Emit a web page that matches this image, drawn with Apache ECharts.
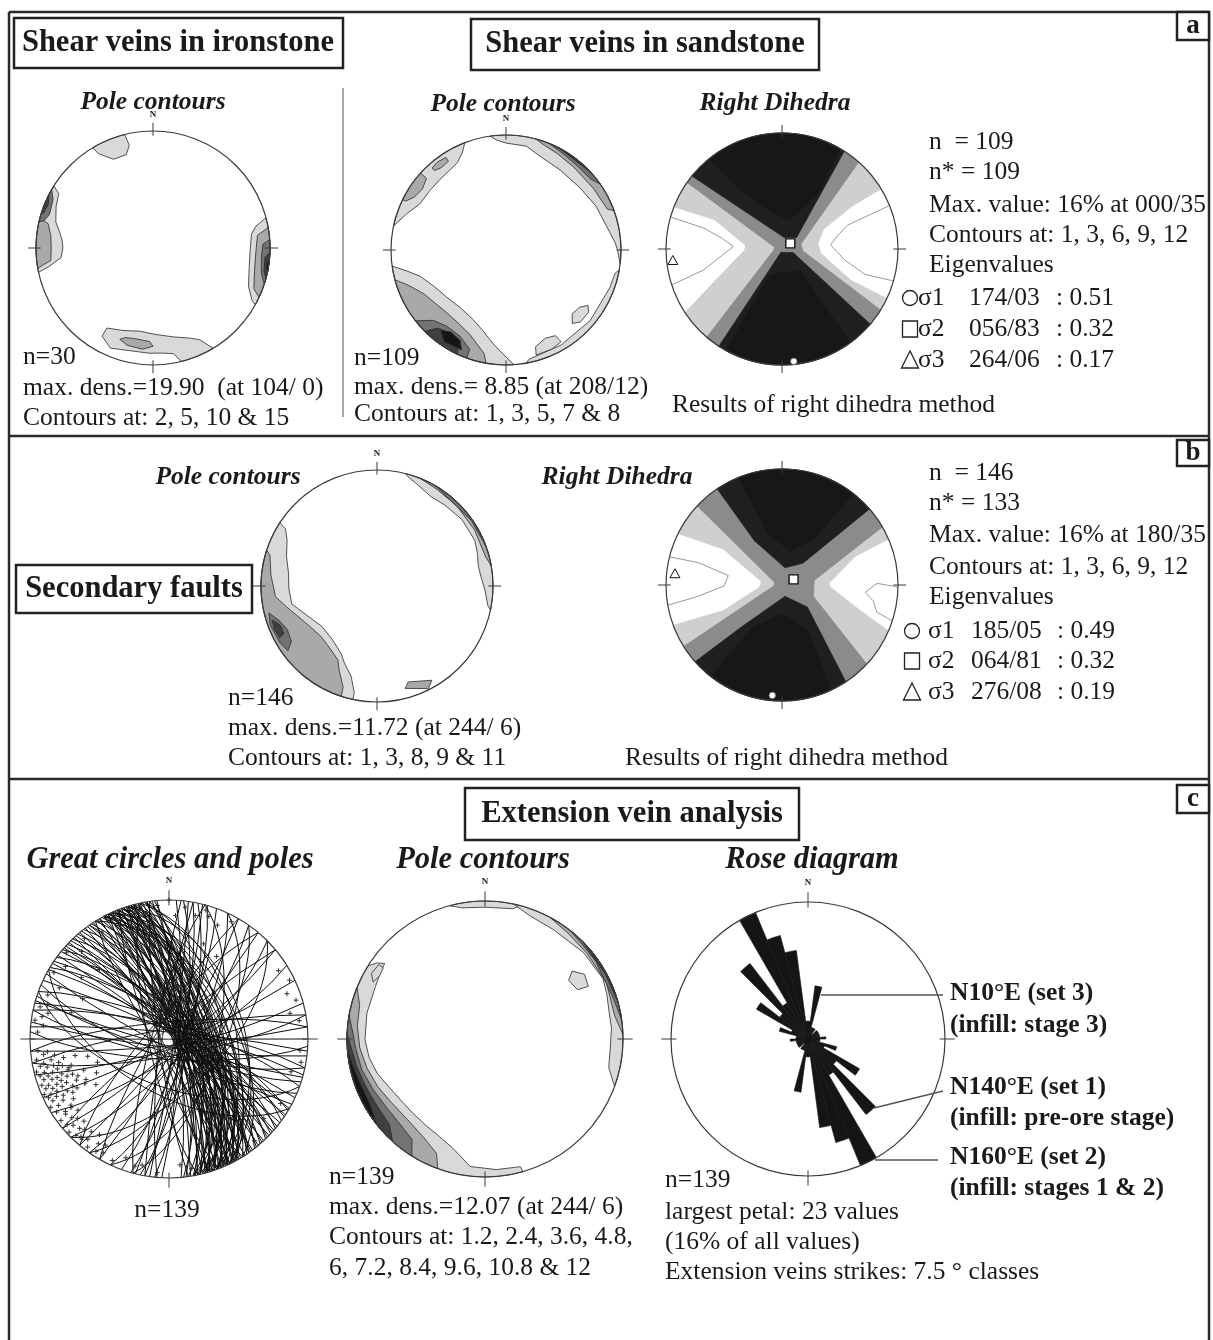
<!DOCTYPE html>
<html>
<head>
<meta charset="utf-8">
<title>Vein analysis stereonets</title>
<script src="https://cdn.jsdelivr.net/npm/echarts@6/dist/echarts.min.js"></script>
<style>
  html, body { margin: 0; padding: 0; background: #fff; }
  #main { width: 1213px; height: 1340px; }
</style>
</head>
<body>
<div id="main"></div>
<script>
// ---------------- data ----------------
// contour polygons: [level, [[azimuth, r], ...]]   (r = 1 is the primitive circle)
var ironContours = [
  [1, [[329,1],[346,1],[347,0.9],[344,0.83],[336,0.83],[330,0.93]]],
  [1, [[302,1],[258,1],[260,0.9],[264,0.79],[270,0.77],[275,0.78],[281,0.82],[285,0.86],[293,0.9],[300,0.93]]],
  [2, [[285,1],[260,1],[261,0.96],[263,0.88],[270,0.87],[277,0.88],[283,0.92]]],
  [3, [[300,1],[283,1],[284,0.96],[288,0.93],[296,0.95]]],
  [4, [[297,1],[287,1],[288,0.98],[293,0.97]]],
  [1, [[75,1],[119,1],[118,0.96],[112,0.88],[102,0.84],[92,0.83],[82,0.85],[78,0.9]]],
  [2, [[80,1],[115,1],[112,0.93],[103,0.89],[92,0.88],[83,0.9]]],
  [3, [[86,1],[108,1],[103,0.95],[95,0.93],[88,0.94]]],
  [4, [[92,1],[105,1],[102,0.97],[95,0.96]]],
  [5, [[95,1],[102,1],[99,0.98]]],
  [1, [[149,1],[166,1],[169,0.92],[176,0.9],[182,0.9],[193,0.9],[203,0.93],[210,0.87],[210,0.79],[200,0.75],[189,0.72],[178,0.74],[167,0.78],[158,0.83],[153,0.88]]],
  [2, [[197,0.8],[190,0.79],[182,0.8],[180,0.84],[186,0.87],[195,0.86],[200,0.83]]]
];

var sandContours = [
  [1, [[352,1],[97,1],[90,0.97],[86,0.95],[77,0.9],[64,0.87],[50,0.84],[34,0.84],[22,0.86],[11,0.92],[0,0.93],[355,0.96]]],
  [2, [[15,1],[70,1],[68,0.95],[55,0.93],[40,0.93],[28,0.95],[20,0.97]]],
  [3, [[22,1],[55,1],[50,0.96],[40,0.96],[30,0.975]]],
  [4, [[27,1],[48,1],[40,0.985]]],
  [1, [[339,1],[282,1],[290,0.92],[298,0.85],[308,0.84],[317,0.84],[325,0.85],[331,0.87],[336,0.93]]],
  [2, [[296,0.97],[300,0.92],[306,0.9],[312,0.93],[312,1],[296,1]]],
  [2, [[318,0.93],[322,0.91],[327,0.92],[327,0.96],[322,0.97],[318,0.96]]],
  [1, [[262,1],[176,1],[182,0.9],[188,0.82],[196,0.73],[205,0.67],[218,0.64],[232,0.66],[243,0.7],[253,0.78],[258,0.88]]],
  [2, [[255,1],[190,1],[192,0.92],[203,0.8],[213,0.76],[223,0.75],[233,0.77],[242,0.81],[250,0.9]]],
  [3, [[232,1],[200,1],[200,0.92],[208,0.85],[218,0.84],[226,0.88]]],
  [4, [[225,1],[205,1],[207,0.9],[214,0.87],[221,0.9]]],
  [5, [[204,0.95],[207,0.88],[214,0.86],[219,0.9],[214,0.96]]],
  [1, [[100,1],[170,1],[168,0.97],[150,0.955],[130,0.955],[110,0.96],[102,0.97]]],
  [1, [[124,0.86],[128,0.81],[134,0.8],[138,0.86],[134,0.9],[127,0.9]]],
  [1, [[150,0.86],[156,0.84],[163,0.88],[164,0.95],[155,0.95],[149,0.93]]]
];

var faultContours = [
  [1, [[14,1],[102,1],[100,0.97],[92,0.93],[85,0.9],[79,0.89],[72,0.91],[65,0.93],[52,0.93],[40,0.91],[31,0.9],[22,0.94],[17,0.97]]],
  [2, [[22,1],[80,1],[75,0.97],[60,0.97],[45,0.975],[32,0.98]]],
  [3, [[30,1],[70,1],[55,0.99]]],
  [1, [[303,1],[192,1],[192,0.94],[196,0.81],[203,0.72],[208,0.66],[220,0.6],[234,0.59],[248,0.66],[258,0.75],[268,0.76],[278,0.77],[288,0.82],[297,0.87],[302,0.93]]],
  [2, [[288,1],[198,1],[198.5,0.92],[204,0.8],[208,0.72],[218,0.67],[228,0.65],[240,0.68],[249,0.73],[257,0.8],[264,0.88],[276,0.92],[286,0.96]]],
  [3, [[256,0.96],[250,0.89],[244,0.86],[237,0.88],[234,0.95],[240,0.97],[250,0.98]]],
  [4, [[252,0.95],[248,0.9],[243,0.9],[242,0.95],[247,0.96]]],
  [2, [[164.7,0.915],[161.9,0.87],[149.8,0.94],[153.4,0.99]]]
];

var extContours = [
  [1, [[345,1],[15,1],[12,0.965],[0,0.955],[350,0.965]]],
  [1, [[12,1],[110,1],[109,0.985],[103,0.92],[95,0.91],[85,0.92],[78,0.92],[70,0.94],[63,0.96],[49,0.95],[32,0.935],[20,0.95]]],
  [2, [[28,1],[88,1],[80,0.955],[65,0.97],[50,0.965],[38,0.975]]],
  [3, [[38,1],[82,1],[72,0.975],[55,0.98],[45,0.985]]],
  [4, [[45,1],[75,1],[62,0.99]]],
  [1, [[52,0.8],[55,0.74],[62,0.76],[63,0.84],[57,0.86]]],
  [1, [[302,1],[164,1],[164.5,0.96],[175,0.95],[186.6,0.93],[195.8,0.83],[205,0.78],[213.6,0.76],[224,0.75],[234.4,0.755],[244,0.78],[252.5,0.82],[261,0.85],[269.7,0.87],[282.4,0.876],[295.6,0.88],[303,0.9],[307,0.91],[305,0.96]]],
  [1, [[300,0.95],[297,0.91],[301,0.89],[305,0.9],[305,0.94]]],
  [2, [[292,1],[200,1],[203,0.9],[212,0.84],[224,0.81],[236,0.82],[246,0.85],[256,0.88],[266,0.91],[276,0.93],[285,0.94]]],
  [3, [[280,1],[212,1],[216,0.9],[226,0.87],[236,0.87],[246,0.89],[256,0.92],[266,0.94],[273,0.96]]],
  [4, [[272,1],[222,1],[228,0.93],[238,0.92],[248,0.93],[258,0.95],[266,0.97]]],
  [5, [[266,1],[232,1],[240,0.96],[250,0.96],[259,0.98]]]
];

// right dihedra: level 0 white, 2 grey, 3 black, 4 darkest (disk itself is light grey)
var rdAContours = [
  [0, [[291,1],[237,1],[245,0.64],[268,0.33],[275,0.32],[293,0.63]]],
  [0, [[59,1],[115,1],[114,0.65],[96,0.34],[81,0.32],[65,0.4],[59,0.7]]],
  [2, [[305,1],[41.5,1],[75,0.17],[95,0.18],[121.7,1],[220.5,1],[265,0.07],[285,0.07]]],
  [3, [[309,1],[32.5,1],[52,0.16],[11,0.1]]],
  [3, [[130.4,1],[213,1],[198,0.03],[107,0.1]]],
  [4, [[321,1],[30,1],[33,0.58],[16,0.26],[350,0.3],[325,0.62]]],
  [4, [[144,1],[209,1],[205,0.25],[180,0.2],[140,0.25]]]
];
var rdALines = [
  [[286,1],[285,0.7],[280,0.52],[273,0.42],[262,0.55],[255,0.7],[252,1]],
  [[68,1],[70,0.6],[76,0.5],[85,0.42],[100,0.55],[107,0.75],[106,1]]
];
var rdBContours = [
  [0, [[296,1],[250,1],[247,0.55],[265,0.2],[279,0.185],[301,0.59]]],
  [0, [[67,1],[113,1],[107.7,0.71],[92,0.42],[88,0.41],[69,0.68]]],
  [2, [[313,1],[60,1],[82,0.28],[110,0.29],[133,1],[238,1],[265,0.07],[290,0.07]]],
  [3, [[326,1],[49,1],[44,0.26],[10,0.15],[328,0.45]]],
  [3, [[146.6,1],[228.6,1],[224,0.5],[165,0.1],[131,0.29]]],
  [4, [[338,1],[38,1],[35,0.5],[15,0.3],[345,0.45]]],
  [4, [[155,1],[218,1],[215,0.45],[180,0.25],[150,0.45]]]
];
var rdBLines = [
  [[284,1],[285,0.75],[280,0.47],[269,0.5],[262,0.75],[260,1]],
  [[91,1],[89,0.82],[95,0.72],[100,0.8],[106,0.85],[108,1]]
];
// principal axes [trend, plunge]: sigma1, sigma2, sigma3
var rdASigma = [[174, 3], [56, 83], [264, 6]];
var rdBSigma = [[185, 5], [64, 81], [276, 8]];

// extension veins: [dip direction, dip]
var gcPlanes = [
  [55,80],[56,74],[57,86],[58,70],[59,82],[60,77],[60,88],[61,68],[62,84],[62,75],
  [63,80],[63,71],[64,86],[64,66],[65,78],[65,83],[66,73],[66,88],[67,69],[67,80],
  [68,85],[68,76],[69,72],[69,82],[70,67],[70,87],[71,78],[71,74],[72,84],[72,70],
  [73,80],[73,65],[74,86],[74,76],[75,72],[75,82],[76,68],[76,88],[77,79],[77,74],
  [78,84],[78,70],[79,81],[80,75],[80,66],[81,86],[82,72],[83,80],[84,77],[85,84],
  [66,62],[70,63],[74,64],[62,64],
  [238,82],[244,86],[249,80],[253,85],[258,78],[262,84],
  [42,84],[43,78],[44,86],[45,80],[46,74],[47,88],[48,82],[49,76],[50,85],[51,79],[52,72],[53,87],[54,81],[55,75],
  [30,84],[31,78],[33,86],[34,80],[36,74],[37,87],[39,82],[40,76],[41,85],
  [93,84],[96,80],[98,87],[100,82],[102,78],[104,85],[106,80],[275,84],[280,86],[285,80],
  [110,82],[115,76],[120,85],[125,80],[130,86],[135,78],[140,84],[148,80],[155,86],[300,82],[310,78],[320,85],
  [180,90],[165,84],[170,80],[175,86],[183,78],[187,85],[192,80],[196,86],[350,84],[355,80],[5,86],[12,82],
  [15,84],[20,80],[25,86],[198,82],[203,78],[208,85],
  [58,52],[62,58],[65,48],[68,60],[70,55],[72,45],[75,62],[78,50],[64,56],[80,58],
  [105,62],[115,58],[125,66],[135,60],[200,62],[210,58]
];

// rose diagram, 7.5 degree strike classes from 000 to 180 (mirrored to 180-360)
var roseBins = ['0','7.5','15','22.5','30','37.5','45','52.5','60','67.5','75','82.5',
                '90','97.5','105','112.5','120','127.5','135','142.5','150','157.5','165','172.5'];
var roseCounts = [3, 9, 2, 2, 2, 1, 2, 2, 2, 2, 2, 3, 2, 2, 5, 3, 10, 6, 16, 7, 23, 18, 15, 3];

// ---------------- layout ----------------
var FONT = '"Liberation Serif","Times New Roman",serif';
var D2R = Math.PI / 180;
var nets = [
  { cx: 153, cy: 248, r: 117, north: true },   // 0 shear veins ironstone
  { cx: 506, cy: 250, r: 115, north: true },   // 1 shear veins sandstone
  { cx: 782, cy: 249, r: 116, north: false },  // 2 right dihedra a
  { cx: 377, cy: 586, r: 116, north: true },   // 3 secondary faults
  { cx: 782, cy: 585, r: 116, north: false },  // 4 right dihedra b
  { cx: 169, cy: 1039, r: 139, north: true },  // 5 great circles
  { cx: 485, cy: 1039, r: 138, north: true },  // 6 extension vein pole contours
  { cx: 808, cy: 1039, r: 137, north: true }   // 7 rose
];
var poleFill = ['#ffffff', '#d9d9d9', '#a9a9a9', '#737373', '#3f3f3f', '#151515'];
var rdFill = ['#ffffff', '#cfcfcf', '#8b8b8b', '#1f1f1f', '#171717'];

function proj(az, r) { return [r * Math.sin(az * D2R), r * Math.cos(az * D2R)]; }
function eqArea(trend, plunge) {
  var r = Math.SQRT2 * Math.sin((90 - plunge) / 2 * D2R);
  return proj(trend, r);
}
// vertices to x/y, following the primitive circle between two rim vertices
function ringPts(pts, closed) {
  var out = [];
  var n = pts.length;
  for (var i = 0; i < n; i++) {
    var p = pts[i];
    out.push(proj(p[0], Math.min(p[1], 1)));
    if (!closed && i === n - 1) break;
    var q = pts[(i + 1) % n];
    if (p[1] >= 1 && q[1] >= 1) {
      var d = ((q[0] - p[0]) % 360 + 540) % 360 - 180;
      var m = Math.ceil(Math.abs(d) / 2);
      for (var k = 1; k < m; k++) out.push(proj(p[0] + d * k / m, 1));
    }
  }
  return out;
}

function base(i, z) {
  return { type: 'custom', coordinateSystem: 'cartesian2d', xAxisIndex: i, yAxisIndex: i,
           silent: true, animation: false, clip: false, z: z };
}
function diskSeries(i, fill) {
  var s = base(i, 1);
  s.data = [[0, 0]];
  s.renderItem = function (params, api) {
    var c = api.coord([0, 0]), R = api.size([1, 0])[0];
    return { type: 'circle', shape: { cx: c[0], cy: c[1], r: R }, style: { fill: fill } };
  };
  return s;
}
function polySeries(i, polys, palette, stroke) {
  var s = base(i, 2);
  s.data = polys.map(function (p, k) { return [0, 0, k]; });
  s.renderItem = function (params, api) {
    var item = polys[params.dataIndex];
    var pts = ringPts(item[1], true).map(function (p) { return api.coord(p); });
    return { type: 'polygon', z2: params.dataIndex, shape: { points: pts },
             style: { fill: palette[item[0]], stroke: stroke || palette[item[0]], lineWidth: stroke ? 0.8 : 0.6 } };
  };
  return s;
}
function lineSeries(i, lines) {
  var s = base(i, 3);
  s.data = lines.map(function (p, k) { return [0, 0, k]; });
  s.renderItem = function (params, api) {
    var pts = ringPts(lines[params.dataIndex], false).map(function (p) { return api.coord(p); });
    return { type: 'polyline', shape: { points: pts }, style: { fill: 'none', stroke: '#9a9a9a', lineWidth: 1 } };
  };
  return s;
}
function frameSeries(i, north) {
  var s = base(i, 4);
  s.data = [[0, 0]];
  s.renderItem = function (params, api) {
    var c = api.coord([0, 0]), R = api.size([1, 0])[0];
    var kids = [{ type: 'circle', shape: { cx: c[0], cy: c[1], r: R },
                  style: { fill: 'none', stroke: '#3a3a3a', lineWidth: 1.2 } }];
    [0, 90, 180, 270].forEach(function (a) {
      var p1 = api.coord(proj(a, 0.96)), p2 = api.coord(proj(a, 1.07));
      kids.push({ type: 'line', shape: { x1: p1[0], y1: p1[1], x2: p2[0], y2: p2[1] },
                  style: { stroke: '#3a3a3a', lineWidth: 1 } });
    });
    if (north) {
      var pn = api.coord(proj(0, 1.14));
      kids.push({ type: 'text', style: { text: 'N', x: pn[0], y: pn[1], fill: '#222',
                  font: 'bold 9px ' + FONT, align: 'center', verticalAlign: 'middle' } });
    }
    return { type: 'group', children: kids };
  };
  return s;
}
function greatCircleSeries(i) {
  var s = base(i, 2);
  s.data = gcPlanes.map(function (p, k) { return [0, 0, k]; });
  s.renderItem = function (params, api) {
    var pl = gcPlanes[params.dataIndex];
    var tanDip = Math.tan(Math.min(pl[1], 89.9) * D2R);
    var pts = [];
    for (var t = -90; t <= 90; t += 3) {
      var plunge = Math.atan(tanDip * Math.cos(t * D2R)) / D2R;
      pts.push(api.coord(eqArea(pl[0] + t, plunge)));
    }
    return { type: 'polyline', shape: { points: pts }, style: { fill: 'none', stroke: '#0d0d0d', lineWidth: 1 } };
  };
  return s;
}
function poleSeries(i) {
  var s = base(i, 3);
  s.data = gcPlanes.map(function (p, k) { return [0, 0, k]; });
  s.renderItem = function (params, api) {
    var pl = gcPlanes[params.dataIndex];
    var p = api.coord(eqArea(pl[0] + 180, 90 - pl[1]));
    return { type: 'group', children: [
      { type: 'line', shape: { x1: p[0] - 2.5, y1: p[1], x2: p[0] + 2.5, y2: p[1] }, style: { stroke: '#333', lineWidth: 1 } },
      { type: 'line', shape: { x1: p[0], y1: p[1] - 2.5, x2: p[0], y2: p[1] + 2.5 }, style: { stroke: '#333', lineWidth: 1 } }
    ] };
  };
  return s;
}
function sigmaSeries(i, sig) {
  var s = base(i, 5);
  s.data = sig.map(function (p, k) { return [0, 0, k]; });
  s.renderItem = function (params, api) {
    var a = sig[params.dataIndex];
    var p = api.coord(eqArea(a[0], a[1]));
    if (params.dataIndex === 0)
      return { type: 'circle', shape: { cx: p[0], cy: p[1], r: 3.3 }, style: { fill: '#fff', stroke: '#555', lineWidth: 0.8 } };
    if (params.dataIndex === 1)
      return { type: 'rect', shape: { x: p[0] - 4.5, y: p[1] - 4.5, width: 9, height: 9 }, style: { fill: '#fff', stroke: '#111', lineWidth: 1.4 } };
    return { type: 'polygon', shape: { points: [[p[0], p[1] - 5], [p[0] - 5, p[1] + 4], [p[0] + 5, p[1] + 4]] },
             style: { fill: '#fff', stroke: '#111', lineWidth: 1 } };
  };
  return s;
}

// ---------------- graphic helpers ----------------
function txt(x, y, s, size, opt) {
  opt = opt || {};
  return { type: 'text', x: x, y: y, z: 10, silent: true,
    style: { text: s, fill: '#1a1a1a', align: opt.align || 'left', verticalAlign: 'middle',
             font: (opt.italic ? 'italic ' : '') + (opt.bold ? 'bold ' : '') + size + 'px ' + FONT } };
}
function box(x, y, w, h) {
  return { type: 'rect', z: 9, silent: true, shape: { x: x, y: y, width: w, height: h },
           style: { fill: '#fff', stroke: '#222', lineWidth: 2.5 } };
}
function seg(x1, y1, x2, y2, w, col) {
  return { type: 'line', z: 9, silent: true, shape: { x1: x1, y1: y1, x2: x2, y2: y2 },
           style: { stroke: col || '#2a2a2a', lineWidth: w || 2.5 } };
}
function eigenRows(xs, ys, rows) {
  var out = [];
  out.push({ type: 'circle', z: 10, shape: { cx: xs[0], cy: ys[0], r: 7.5 }, style: { fill: 'none', stroke: '#222', lineWidth: 1.3 } });
  out.push({ type: 'rect', z: 10, shape: { x: xs[0] - 7.5, y: ys[1] - 8, width: 15, height: 16 }, style: { fill: 'none', stroke: '#222', lineWidth: 1.3 } });
  out.push({ type: 'polygon', z: 10, shape: { points: [[xs[0], ys[2] - 9], [xs[0] - 8.5, ys[2] + 8], [xs[0] + 8.5, ys[2] + 8]] },
             style: { fill: 'none', stroke: '#222', lineWidth: 1.3 } });
  rows.forEach(function (r, k) {
    out.push(txt(xs[1], ys[k], r[0], 25.5));
    out.push(txt(xs[2], ys[k], r[1], 25.5));
    out.push(txt(xs[3], ys[k], r[2], 25.5));
  });
  return out;
}

var REG = 25.5, BIG = 30.5;
var graphics = [
  // frame
  seg(9, 12, 1209, 12), seg(9, 12, 9, 1340), seg(1209, 12, 1209, 1340),
  seg(9, 436, 1209, 436), seg(9, 779, 1209, 779),
  seg(343, 88, 343, 417, 1.3, '#777'),
  // panel a
  box(14, 18, 329, 50), txt(178, 43, 'Shear veins in ironstone', BIG, { bold: true, align: 'center' }),
  box(471, 19, 348, 51), txt(645, 44, 'Shear veins in sandstone', BIG, { bold: true, align: 'center' }),
  box(1177, 12, 32, 28), txt(1193, 26, 'a', 27, { bold: true, align: 'center' }),
  txt(153, 102, 'Pole contours', REG, { bold: true, italic: true, align: 'center' }),
  txt(23, 357, 'n=30', REG), txt(23, 388, 'max. dens.=19.90  (at 104/ 0)', REG), txt(23, 418, 'Contours at: 2, 5, 10 & 15', REG),
  txt(503, 104, 'Pole contours', REG, { bold: true, italic: true, align: 'center' }),
  txt(354, 358, 'n=109', REG), txt(354, 387, 'max. dens.= 8.85 (at 208/12)', REG), txt(354, 414, 'Contours at: 1, 3, 5, 7 & 8', REG),
  txt(775, 103, 'Right Dihedra', REG, { bold: true, italic: true, align: 'center' }),
  txt(929, 142, 'n  = 109', REG), txt(929, 172, 'n* = 109', REG), txt(929, 205, 'Max. value: 16% at 000/35', REG),
  txt(929, 235, 'Contours at: 1, 3, 6, 9, 12', REG), txt(929, 265, 'Eigenvalues', REG),
  txt(672, 405, 'Results of right dihedra method', REG),
  // panel b
  txt(228, 477, 'Pole contours', REG, { bold: true, italic: true, align: 'center' }),
  box(16, 565, 236, 48), txt(134, 589, 'Secondary faults', BIG, { bold: true, align: 'center' }),
  txt(228, 698, 'n=146', REG), txt(228, 728, 'max. dens.=11.72 (at 244/ 6)', REG), txt(228, 758, 'Contours at: 1, 3, 8, 9 & 11', REG),
  txt(617, 477, 'Right Dihedra', REG, { bold: true, italic: true, align: 'center' }),
  box(1177, 440, 32, 26), txt(1193, 453, 'b', 27, { bold: true, align: 'center' }),
  txt(929, 473, 'n  = 146', REG), txt(929, 503, 'n* = 133', REG), txt(929, 535, 'Max. value: 16% at 180/35', REG),
  txt(929, 567, 'Contours at: 1, 3, 6, 9, 12', REG), txt(929, 597, 'Eigenvalues', REG),
  txt(625, 758, 'Results of right dihedra method', REG),
  // panel c
  box(465, 788, 334, 52), txt(632, 814, 'Extension vein analysis', BIG, { bold: true, align: 'center' }),
  box(1177, 785, 32, 28), txt(1193, 799, 'c', 27, { bold: true, align: 'center' }),
  txt(170, 860, 'Great circles and poles', BIG, { bold: true, italic: true, align: 'center' }),
  txt(483, 860, 'Pole contours', BIG, { bold: true, italic: true, align: 'center' }),
  txt(812, 860, 'Rose diagram', BIG, { bold: true, italic: true, align: 'center' }),
  txt(167, 1210, 'n=139', REG, { align: 'center' }),
  txt(329, 1177, 'n=139', REG), txt(329, 1207, 'max. dens.=12.07 (at 244/ 6)', REG),
  txt(329, 1237, 'Contours at: 1.2, 2.4, 3.6, 4.8,', REG), txt(329, 1268, '6, 7.2, 8.4, 9.6, 10.8 & 12', REG),
  txt(665, 1180, 'n=139', REG), txt(665, 1212, 'largest petal: 23 values', REG),
  txt(665, 1242, '(16% of all values)', REG), txt(665, 1272, 'Extension veins strikes: 7.5 \u00b0 classes', REG),
  txt(950, 993, 'N10\u00b0E (set 3)', REG, { bold: true }), txt(950, 1025, '(infill: stage 3)', REG, { bold: true }),
  txt(950, 1087, 'N140\u00b0E (set 1)', REG, { bold: true }), txt(950, 1118, '(infill: pre-ore stage)', REG, { bold: true }),
  txt(950, 1157, 'N160\u00b0E (set 2)', REG, { bold: true }), txt(950, 1188, '(infill: stages 1 & 2)', REG, { bold: true }),
  seg(821, 995, 943, 995, 1.4, '#555'), seg(874, 1108, 943, 1091, 1.4, '#555'), seg(875, 1160, 938, 1160, 1.4, '#555')
].concat(
  eigenRows([910, 918, 969, 1056], [298, 329, 360], [['\u03c31', '174/03', ': 0.51'], ['\u03c32', '056/83', ': 0.32'], ['\u03c33', '264/06', ': 0.17']]),
  eigenRows([912, 928, 971, 1057], [631, 661, 692], [['\u03c31', '185/05', ': 0.49'], ['\u03c32', '064/81', ': 0.32'], ['\u03c33', '276/08', ': 0.19']])
);

// ---------------- chart ----------------
var roseCats = roseBins.concat(roseBins.map(function (b) { return String(parseFloat(b) + 180); }));
var roseData = roseCounts.concat(roseCounts);

var series = [
  polySeries(0, ironContours, poleFill, '#2a2a2a'), frameSeries(0, true),
  polySeries(1, sandContours, poleFill, '#2a2a2a'), frameSeries(1, true),
  diskSeries(2, rdFill[1]), polySeries(2, rdAContours, rdFill), lineSeries(2, rdALines), frameSeries(2, false), sigmaSeries(2, rdASigma),
  polySeries(3, faultContours, poleFill, '#2a2a2a'), frameSeries(3, true),
  diskSeries(4, rdFill[1]), polySeries(4, rdBContours, rdFill), lineSeries(4, rdBLines), frameSeries(4, false), sigmaSeries(4, rdBSigma),
  greatCircleSeries(5), poleSeries(5), frameSeries(5, true),
  polySeries(6, extContours, poleFill, '#2a2a2a'), frameSeries(6, true),
  frameSeries(7, true),
  { type: 'bar', coordinateSystem: 'polar', data: roseData, barCategoryGap: '0%', silent: true, animation: false, z: 3,
    itemStyle: { color: '#151515', borderColor: '#151515', borderWidth: 0.6 } }
];

var chart = echarts.init(document.getElementById('main'), null, { renderer: 'canvas' });
chart.setOption({
  backgroundColor: '#ffffff',
  animation: false,
  grid: nets.map(function (n) { return { left: n.cx - n.r, top: n.cy - n.r, width: 2 * n.r, height: 2 * n.r, containLabel: false }; }),
  xAxis: nets.map(function (n, i) { return { gridIndex: i, type: 'value', min: -1, max: 1, show: false }; }),
  yAxis: nets.map(function (n, i) { return { gridIndex: i, type: 'value', min: -1, max: 1, show: false }; }),
  polar: { center: [nets[7].cx, nets[7].cy], radius: nets[7].r },
  angleAxis: { type: 'category', data: roseCats, startAngle: 90, clockwise: true, boundaryGap: true,
               axisLine: { show: false }, axisTick: { show: false }, axisLabel: { show: false }, splitLine: { show: false } },
  radiusAxis: { type: 'value', min: 0, max: 23, show: false },
  series: series,
  graphic: graphics
});
</script>
</body>
</html>
